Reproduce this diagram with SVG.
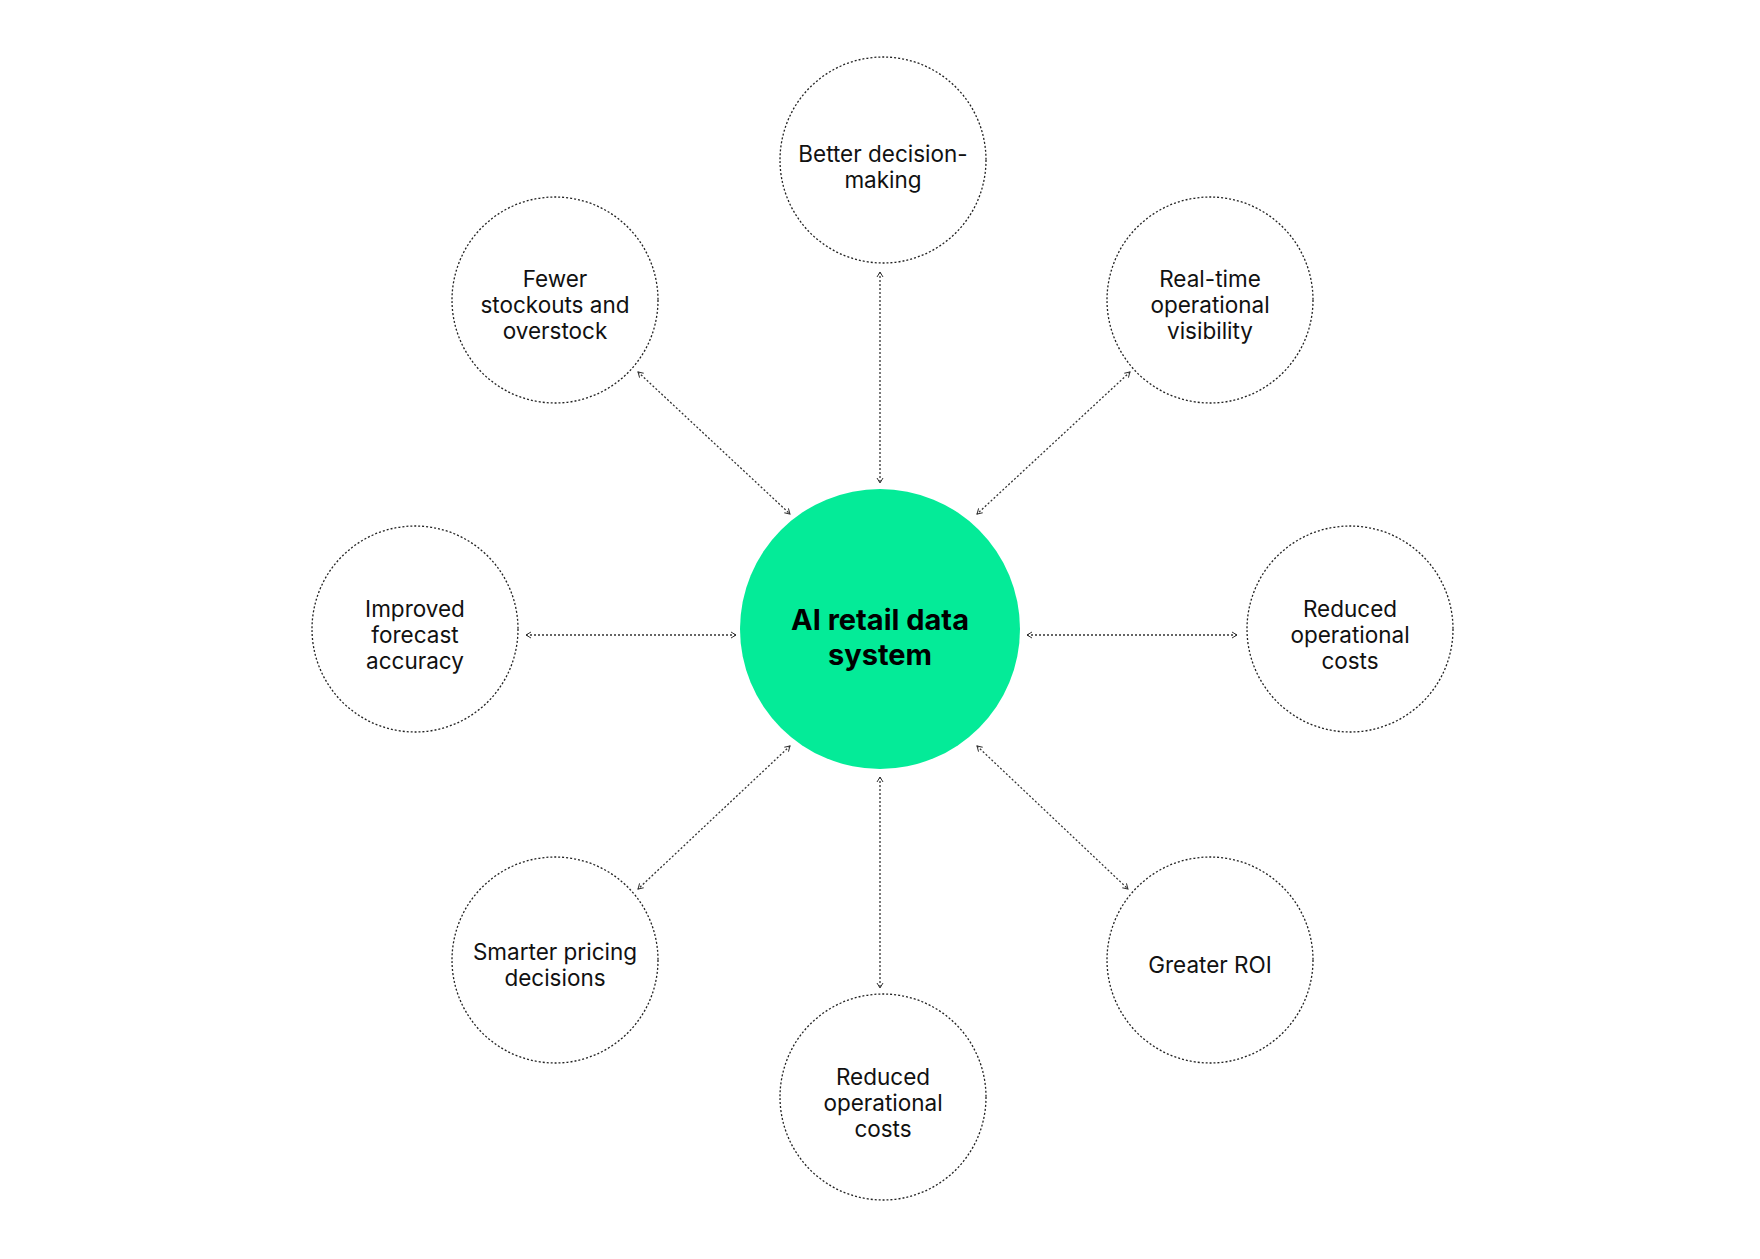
<svg xmlns="http://www.w3.org/2000/svg" width="1760" height="1259" viewBox="0 0 1760 1259">
<style>
.n{fill:#fff;stroke:#222;stroke-width:1.3;stroke-dasharray:2 2}
.t{font-family:Inter,"Liberation Sans",sans-serif;font-size:22.5px;fill:#111;text-anchor:middle}
.c{stroke:#333;stroke-width:1.3;stroke-dasharray:2 2;fill:none;marker-start:url(#a);marker-end:url(#a)}
</style>
<defs>
<marker id="a" viewBox="0 0 8 8" refX="7" refY="4" markerWidth="8" markerHeight="8" markerUnits="userSpaceOnUse" orient="auto-start-reverse">
<path d="M2,1 L7,4 L2,7" fill="none" stroke="#333" stroke-width="1"/>
</marker>
</defs>
<rect width="1760" height="1259" fill="#fff"/>
<g id="connectors">
<line class="c" x1="880" y1="272" x2="880" y2="483"/>
<line class="c" x1="880" y1="777" x2="880" y2="988"/>
<line class="c" x1="526" y1="635" x2="736" y2="635"/>
<line class="c" x1="1027" y1="635" x2="1237" y2="635"/>
<line class="c" x1="638" y1="372" x2="790" y2="514"/>
<line class="c" x1="1130" y1="372" x2="977" y2="514"/>
<line class="c" x1="790" y1="746" x2="638" y2="889"/>
<line class="c" x1="977" y1="746" x2="1128" y2="889"/>
</g>
<g id="center">
<circle cx="880" cy="629" r="140" fill="#04eb98"/>
<text x="880" y="629" style="font-family:Inter,'Liberation Sans',sans-serif;font-size:29px;font-weight:700;text-anchor:middle" fill="#000"><tspan x="880" y="630">AI retail data</tspan><tspan x="880" y="665">system</tspan></text>
</g>
<g id="n1"><circle class="n" cx="883" cy="160" r="103"/><text class="t"><tspan x="883" y="162">Better decision-</tspan><tspan x="883" y="188">making</tspan></text></g>
<g id="n2"><circle class="n" cx="555" cy="300" r="103"/><text class="t"><tspan x="555" y="287">Fewer</tspan><tspan x="555" y="313">stockouts and</tspan><tspan x="555" y="339">overstock</tspan></text></g>
<g id="n3"><circle class="n" cx="1210" cy="300" r="103"/><text class="t"><tspan x="1210" y="287">Real-time</tspan><tspan x="1210" y="313">operational</tspan><tspan x="1210" y="339">visibility</tspan></text></g>
<g id="n4"><circle class="n" cx="415" cy="629" r="103"/><text class="t"><tspan x="415" y="617">Improved</tspan><tspan x="415" y="643">forecast</tspan><tspan x="415" y="669">accuracy</tspan></text></g>
<g id="n5"><circle class="n" cx="1350" cy="629" r="103"/><text class="t"><tspan x="1350" y="617">Reduced</tspan><tspan x="1350" y="643">operational</tspan><tspan x="1350" y="669">costs</tspan></text></g>
<g id="n6"><circle class="n" cx="555" cy="960" r="103"/><text class="t"><tspan x="555" y="960">Smarter pricing</tspan><tspan x="555" y="986">decisions</tspan></text></g>
<g id="n7"><circle class="n" cx="1210" cy="960" r="103"/><text class="t"><tspan x="1210" y="973">Greater ROI</tspan></text></g>
<g id="n8"><circle class="n" cx="883" cy="1097" r="103"/><text class="t"><tspan x="883" y="1085">Reduced</tspan><tspan x="883" y="1111">operational</tspan><tspan x="883" y="1137">costs</tspan></text></g>
</svg>
